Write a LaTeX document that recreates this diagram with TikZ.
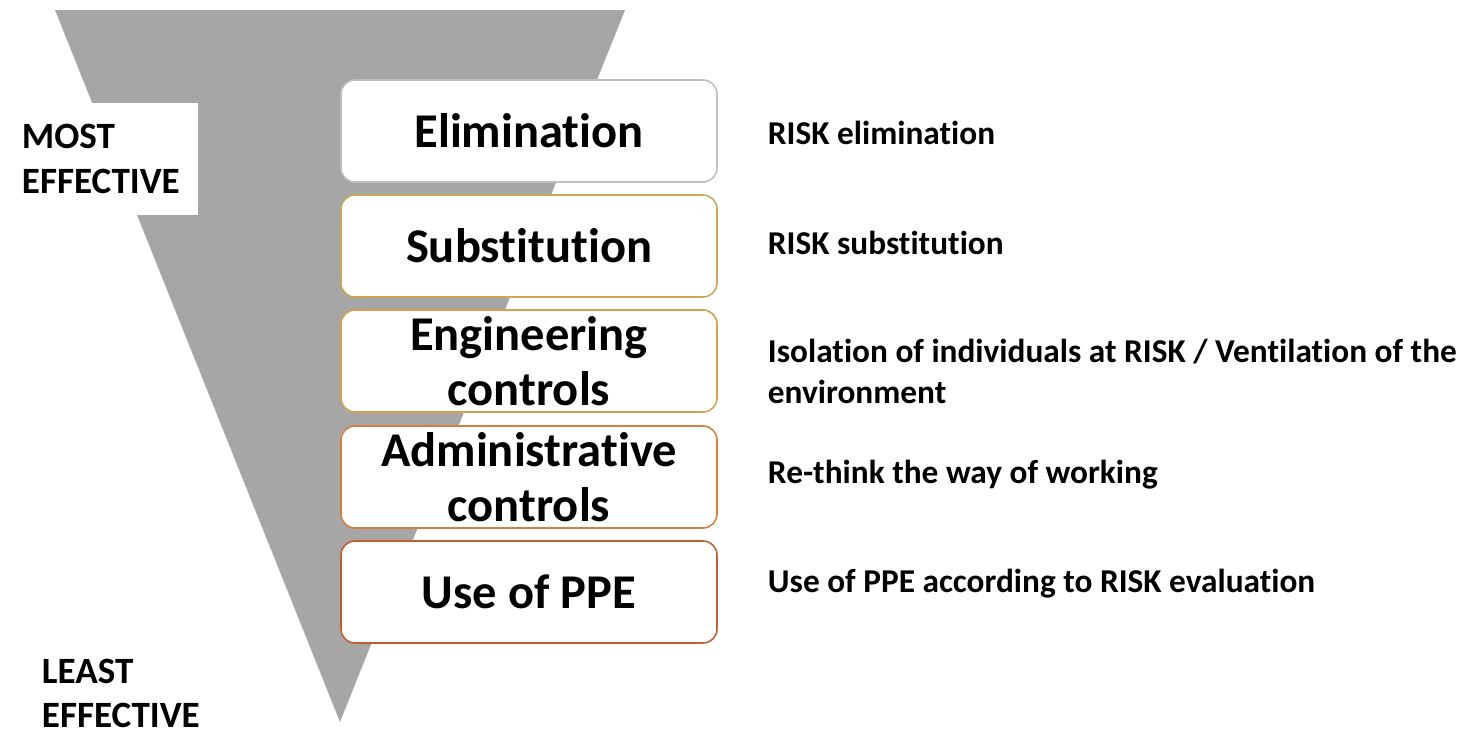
\documentclass[tikz,border=0pt]{standalone}
\usepackage{fontspec}
\setmainfont[Ligatures=NoCommon]{Carlito}

\definecolor{funnelgray}{RGB}{166,166,166}
\definecolor{elimborder}{RGB}{190,190,190}
\definecolor{substborder}{RGB}{198,168,86}
\definecolor{engborder}{RGB}{214,158,78}
\definecolor{adminborder}{RGB}{212,126,64}
\definecolor{ppeborder}{RGB}{198,92,52}

\tikzset{
    level/.style={draw=#1, line width=1.1pt, rounded corners=0.35cm,
        fill=white, minimum width=9.4cm, minimum height=2.55cm,
        align=center, font=\fontsize{34.5}{39.5}\selectfont\bfseries},
    note/.style={anchor=base west, align=left,
        font=\fontsize{23.7}{28.5}\selectfont\bfseries},
    rank/.style={anchor=base west, align=left,
        font=\fontsize{26.4}{32}\selectfont\bfseries}
}

\begin{document}
\begin{tikzpicture}
        \useasboundingbox (0, 0) rectangle (36.525, -18.35);

        % funnel behind the levels
        \fill[funnelgray] (1.375, -0.25) -- (15.625, -0.25) -- (8.5, -18.05) -- cycle;
        \fill[white] (0, -2.575) rectangle (4.95, -5.375);

        \node[rank] (most) at (0.425, -3.7) {MOST};
        \node[rank] (mosteff) at (0.425, -4.825) {EFFECTIVE};
        \node[rank] (least) at (0.925, -17.075) {LEAST};
        \node[rank] (leasteff) at (0.925, -18.175) {EFFECTIVE};

        % the five levels
        \node[level=elimborder] (elim) at (13.225, -3.275) {Elimination};
        \node[level=substborder] (subst) at (13.225, -6.15) {Substitution};
        \node[level=engborder] (eng) at (13.225, -9.025) {Engineering\\controls};
        \node[level=adminborder] (admin) at (13.225, -11.925) {Administrative\\controls};
        \node[level=ppeborder] (ppe) at (13.225, -14.8) {Use of PPE};

        % what each level means
        \node[note] (elimnote) at (19.075, -3.6) {RISK elimination};
        \node[note] (substnote) at (19.075, -6.35) {RISK substitution};
        \node[note] (engnote) at (19.075, -10.075) {Isolation of individuals at RISK / Ventilation of the\\environment};
        \node[note] (adminnote) at (19.075, -12.075) {Re-think the way of working};
        \node[note] (ppenote) at (19.075, -14.8) {Use of PPE according to RISK evaluation};
\end{tikzpicture}
\end{document}
